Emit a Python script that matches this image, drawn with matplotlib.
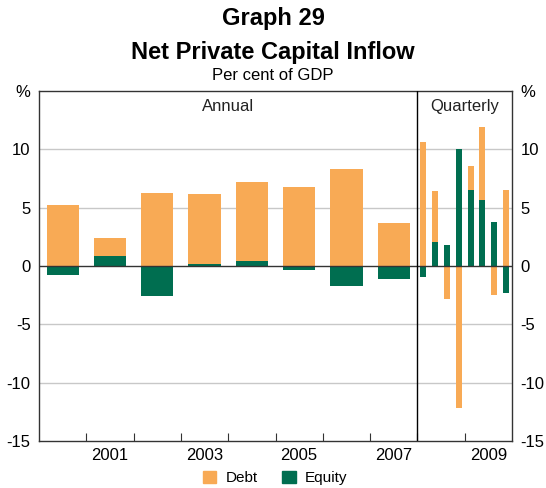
import matplotlib
matplotlib.use("Agg")
import matplotlib.pyplot as plt
import numpy as np

plt.rcParams['font.family'] = ['Liberation Sans', 'DejaVu Sans']

# Annual data 2000-2007
years = [2000, 2001, 2002, 2003, 2004, 2005, 2006, 2007]
annual_debt = [5.2, 1.5, 6.3, 6.0, 6.8, 6.8, 8.3, 3.7]
annual_equity = [-0.8, 0.9, -2.6, 0.2, 0.4, -0.3, -1.7, -1.1]

# Quarterly data 2008Q1-2009Q4
quarters = ['2008Q1', '2008Q2', '2008Q3', '2008Q4', '2009Q1', '2009Q2', '2009Q3', '2009Q4']
q_debt = [10.6, 4.3, -2.8, -12.2, 2.1, 6.2, -2.5, 6.5]
q_equity = [-0.9, 2.1, 1.8, 10.0, 6.5, 5.7, 3.8, -2.3]

year_labels = ['2001', '2003', '2005', '2007', '2009']

DEBT = '#F8AA55'
EQUITY = '#006E50'

fig = plt.figure(figsize=(5.46, 4.88), dpi=100)
ax = fig.add_axes([39/546, 1-441/488, (512-39)/546, (441-91)/488])

def stacked(x, debt, eq, width):
    debt = np.array(debt, float)
    eq = np.array(eq, float)
    eq_bottom = np.zeros_like(eq)
    ax.bar(x, eq, width, bottom=eq_bottom, color=EQUITY, zorder=3)
    # debt stacked on equity if same sign, else from zero
    db = np.where(np.sign(debt) == np.sign(eq), eq, 0.0)
    ax.bar(x, debt, width, bottom=db, color=DEBT, zorder=3)

xa = np.array(years) + 0.5
stacked(xa, annual_debt, annual_equity, 0.68)
xq = 2008 + (np.arange(len(quarters)) + 0.5) / 4
stacked(xq, q_debt, q_equity, 0.125)

ax.set_xlim(2000, 2010)
ax.set_ylim(-15, 15)

for v in [-10, -5, 5, 10]:
    ax.axhline(v, color='#C8C8C8', lw=1, zorder=1)
ax.axhline(0, color='#333333', lw=1, zorder=4)
ax.axvline(2008, color='black', lw=1, zorder=5)

ax.set_xticks(np.arange(2001, 2010))
ax.set_xticklabels([])
ax.set_xticks([int(l) + 0.5 for l in year_labels], minor=True)
ax.set_xticklabels(year_labels, minor=True, fontsize=12)
ax.tick_params(axis='x', which='major', direction='in', length=6, color='#333333')
ax.tick_params(axis='x', which='minor', length=0, pad=5)

yt = [-15, -10, -5, 0, 5, 10, 15]
ylab = ['-15', '-10', '-5', '0', '5', '10', '%']
ax.set_yticks(yt)
ax.set_yticklabels(ylab, fontsize=12)
ax.tick_params(axis='y', length=0, pad=6, labelright=True, right=False)

for s in ax.spines.values():
    s.set_color('#333333')
    s.set_linewidth(1)

ax.text(2004, 13.7, 'Annual', ha='center', va='center', fontsize=12, color='#222222')
ax.text(2009, 13.7, 'Quarterly', ha='center', va='center', fontsize=12, color='#222222')

fig.text(0.5, 1-18/488, 'Graph 29', ha='center', va='center', fontsize=17, fontweight='bold')
fig.text(0.5, 1-52/488, 'Net Private Capital Inflow', ha='center', va='center', fontsize=17, fontweight='bold')
fig.text(0.5, 1-75/488, 'Per cent of GDP', ha='center', va='center', fontsize=12)

from matplotlib.patches import Patch
handles = [Patch(color=DEBT, label='Debt'), Patch(color=EQUITY, label='Equity')]
fig.legend(handles=handles, loc='center', bbox_to_anchor=(275/546, 1-478/488), ncol=2,
           frameon=False, fontsize=11, handlelength=0.9, handleheight=0.9,
           columnspacing=1.6, handletextpad=0.6)

fig.savefig('out.png', dpi=100)
